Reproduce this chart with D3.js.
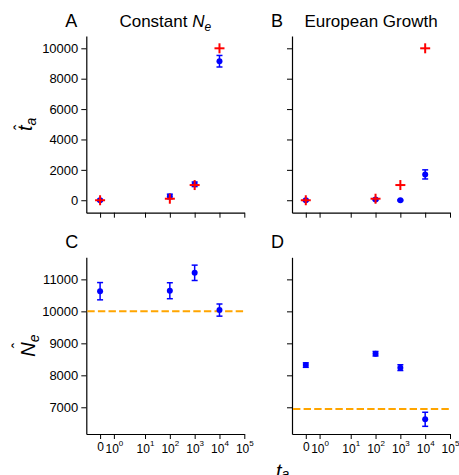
<!DOCTYPE html>
<html>
<head>
<meta charset="utf-8">
<script src="https://cdn.jsdelivr.net/npm/d3@7"></script>
<style>
    body { margin: 0; background: #fff; }
    svg { font-family: "Liberation Sans", Arial, sans-serif; }
</style>
</head>
<body>
<svg id="chart" width="459" height="475"></svg>
<script>
// Data
const trueTa = [0, 100, 1000, 10000];

const constTaEst = [0, 250, 1050, 9150];
const constTaErr = [60, 150, 150, 380];
const euroTaEst = [0, 50, 0, 1700];
const euroTaErr = [50, 60, 40, 300];

const constNeEst = [10630, 10645, 11205, 10040];
const constNeErr = [270, 250, 240, 190];
const euroNeEst = [8320, 8675, 8240, 6625];
const euroNeErr = [70, 70, 90, 220];

const constNeTrue = 10000;
const euroNeTrue = 6950;

const xTicks = [0, 1, 10, 100, 1000, 10000, 100000];
const taTicks = [0, 2000, 4000, 6000, 8000, 10000];
const neTicks = [7000, 8000, 9000, 10000, 11000];

// matplotlib-style symlog, linthresh 2, linscale 1
function symlog(v) {
    const t = 2, adj = 1 / (1 - 1 / 10);
    if (Math.abs(v) <= t) return v * adj;
    return Math.sign(v) * t * (adj + Math.log10(Math.abs(v) / t));
}

const svg = d3.select('#chart');

const cols = [[86.3, 244.3], [292, 450]];
const rows = [[36, 212.7], [257.3, 434]];

const panels = [
    { col: 0, row: 0, letter: 'A', est: constTaEst, err: constTaErr, domain: [-820, 10810], ticks: taTicks, showTrue: true },
    { col: 1, row: 0, letter: 'B', est: euroTaEst, err: euroTaErr, domain: [-820, 10810], ticks: taTicks, showTrue: true },
    { col: 0, row: 1, letter: 'C', est: constNeEst, err: constNeErr, domain: [6165, 11690], ticks: neTicks, hline: constNeTrue },
    { col: 1, row: 1, letter: 'D', est: euroNeEst, err: euroNeErr, domain: [6165, 11690], ticks: neTicks, hline: euroNeTrue }
];

panels.forEach(p => {
    const [x0, x1] = cols[p.col];
    const [y0, y1] = rows[p.row];

    const xLin = d3.scaleLinear().domain([symlog(-1), symlog(100000)]).range([x0, x1]);
    const x = v => xLin(symlog(v));
    const y = d3.scaleLinear().domain(p.domain).range([y1, y0]);

    const g = svg.append('g');

    // y axis
    const yAxis = g.append('g')
        .attr('transform', `translate(${x0},0)`)
        .call(d3.axisLeft(y).tickValues(p.ticks).tickSize(5).tickSizeOuter(0).tickPadding(3)
            .tickFormat(p.col === 0 ? d3.format('d') : ''));
    yAxis.selectAll('text').attr('font-size', 13).attr('fill', '#000').attr('font-family', null);
    yAxis.select('.domain').attr('stroke-width', 1.2);

    // x axis
    const xAxis = g.append('g')
        .attr('transform', `translate(0,${y1})`)
        .call(d3.axisBottom(xLin).tickValues(xTicks.map(symlog)).tickSize(5).tickSizeOuter(0).tickFormat(''));
    xAxis.select('.domain').attr('stroke-width', 1.2);
    if (p.row === 1) {
        xAxis.selectAll('.tick').each(function(d, i) {
            const v = xTicks[i];
            const t = d3.select(this).append('text')
                .attr('text-anchor', 'middle')
                .attr('fill', '#000')
                .attr('font-size', 12);
            if (v === 0) {
                t.attr('y', 17).text('0');
            } else {
                t.attr('y', 19);
                t.append('tspan').text('10');
                t.append('tspan').attr('font-size', 8).attr('dy', -7).text(Math.round(Math.log10(v)));
            }
        });
    }

    // panel letter
    svg.append('text')
        .attr('x', x0 - 21)
        .attr('y', y0 - 9)
        .attr('font-size', 18)
        .text(p.letter);

    // reference line
    if (p.hline !== undefined) {
        g.append('line')
            .attr('x1', x0 + 1).attr('x2', x1)
            .attr('y1', y(p.hline)).attr('y2', y(p.hline))
            .attr('stroke', 'orange')
            .attr('stroke-width', 2)
            .attr('stroke-dasharray', '7.4,3.2');
    }

    // estimates with error bars
    const pts = trueTa.map((t, i) => ({ t, est: p.est[i], err: p.err[i] }));
    const eb = g.append('g').selectAll('g').data(pts).join('g');
    eb.append('line')
        .attr('x1', d => x(d.t)).attr('x2', d => x(d.t))
        .attr('y1', d => y(d.est - d.err)).attr('y2', d => y(d.est + d.err))
        .attr('stroke', 'blue').attr('stroke-width', 1.5);
    [-1, 1].forEach(s => {
        eb.append('line')
            .attr('x1', d => x(d.t) - 3).attr('x2', d => x(d.t) + 3)
            .attr('y1', d => y(d.est + s * d.err)).attr('y2', d => y(d.est + s * d.err))
            .attr('stroke', 'blue').attr('stroke-width', 1.5);
    });
    eb.append('circle')
        .attr('cx', d => x(d.t)).attr('cy', d => y(d.est))
        .attr('r', 3)
        .attr('fill', 'blue');

    // true values
    if (p.showTrue) {
        const tr = g.append('g').selectAll('g').data(trueTa).join('g')
            .attr('transform', d => `translate(${x(d)},${y(d)})`);
        tr.append('line').attr('x1', -5).attr('x2', 5).attr('stroke', 'red').attr('stroke-width', 2);
        tr.append('line').attr('y1', -5).attr('y2', 5).attr('stroke', 'red').attr('stroke-width', 2);
    }
});

// titles
const t1 = svg.append('text')
    .attr('x', (cols[0][0] + cols[0][1]) / 2)
    .attr('y', 27)
    .attr('text-anchor', 'middle')
    .attr('font-size', 17);
t1.append('tspan').text('Constant ');
t1.append('tspan').attr('font-style', 'italic').text('N');
t1.append('tspan').attr('font-style', 'italic').attr('font-size', 12).attr('dy', 4).text('e');

svg.append('text')
    .attr('x', (cols[1][0] + cols[1][1]) / 2)
    .attr('y', 27)
    .attr('text-anchor', 'middle')
    .attr('font-size', 17)
    .text('European Growth');

// y labels (rotated), hat drawn as its own glyph above the base letter
function hatLabel(cx, cy, base, sub, hatX, hatY) {
    const g = svg.append('g').attr('transform', `translate(${cx},${cy}) rotate(-90)`);
    const t = g.append('text')
        .attr('text-anchor', 'middle')
        .attr('font-size', 20)
        .attr('font-style', 'italic');
    t.append('tspan').text(base);
    t.append('tspan').attr('font-size', 14).attr('dy', 4).text(sub);
    g.append('text')
        .attr('x', hatX)
        .attr('y', hatY)
        .attr('text-anchor', 'middle')
        .attr('font-size', 16)
        .text('\u02C6');
}
hatLabel(32, (rows[0][0] + rows[0][1]) / 2, 't', 'a', -3, -6);
hatLabel(35, (rows[1][0] + rows[1][1]) / 2, 'N', 'e', 0, -11);

// x label
const xl = svg.append('text')
    .attr('x', 276)
    .attr('y', 478)
    .attr('font-size', 20)
    .attr('font-style', 'italic');
xl.append('tspan').text('t');
xl.append('tspan').attr('font-size', 14).attr('dy', 1).text('a');
</script>
</body>
</html>
